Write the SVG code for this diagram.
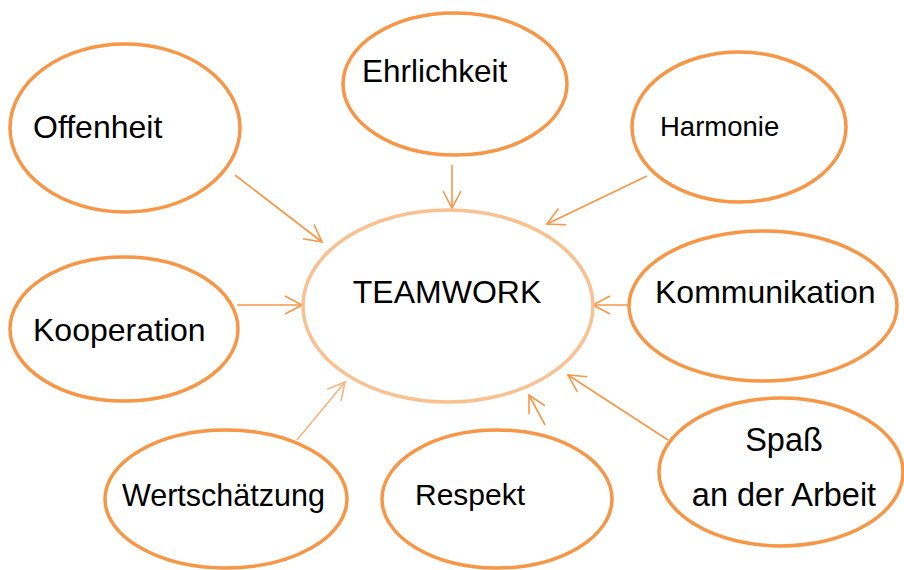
<svg xmlns="http://www.w3.org/2000/svg" width="904" height="570" viewBox="0 0 904 570">
<style>
.n{fill:#fff;stroke:#F79646;stroke-width:3.5}
.c{fill:#fff;stroke:#FAC090;stroke-width:3.5}
.t{font-family:"Liberation Sans",Arial,sans-serif;font-size:32px;fill:#000}
.a{fill:none;stroke:#F79646;stroke-width:1.6}
</style>
<defs>
<marker id="ahl" markerUnits="userSpaceOnUse" viewBox="0 0 20 20" refX="18" refY="10" markerWidth="20" markerHeight="20" orient="auto">
<path d="M1,1 L18,10 L1,19" fill="none" stroke="#F9B27C" stroke-width="1.6"/>
</marker>
<marker id="aho" markerUnits="userSpaceOnUse" viewBox="0 0 20 20" refX="18" refY="10" markerWidth="20" markerHeight="20" orient="auto">
<path d="M1,1 L18,10 L1,19" fill="none" stroke="#F79646" stroke-width="1.6"/>
</marker>
</defs>
<g id="connectors">
<line class="a" x1="235" y1="175" x2="322" y2="242" marker-end="url(#aho)"/>
<line class="a" x1="452" y1="165" x2="452" y2="208" marker-end="url(#aho)"/>
<line class="a" x1="647" y1="176" x2="547" y2="224" marker-end="url(#aho)"/>
<line class="a" x1="237" y1="305" x2="302" y2="305" marker-end="url(#aho)"/>
<line class="a" x1="629" y1="305" x2="593" y2="305" marker-end="url(#aho)"/>
<line class="a" style="stroke:#F9B27C" x1="297" y1="440" x2="345" y2="382" marker-end="url(#ahl)"/>
<line class="a" x1="545" y1="425" x2="529" y2="395" marker-end="url(#aho)"/>
<line class="a" x1="668" y1="440" x2="568" y2="375" marker-end="url(#aho)"/>
</g>
<g id="teamwork">
<ellipse class="c" cx="448" cy="306" rx="145" ry="96"/>
<text class="t" x="447" y="303" text-anchor="middle">TEAMWORK</text>
</g>
<g id="offenheit">
<ellipse class="n" cx="125" cy="128" rx="115" ry="84"/>
<text class="t" x="33" y="138">Offenheit</text>
</g>
<g id="ehrlichkeit">
<ellipse class="n" cx="455" cy="84" rx="112" ry="71"/>
<text class="t" x="362" y="82" style="font-size:31.5px">Ehrlichkeit</text>
</g>
<g id="harmonie">
<ellipse class="n" cx="739" cy="127" rx="107" ry="75"/>
<text class="t" x="660" y="136" style="font-size:27.5px">Harmonie</text>
</g>
<g id="kooperation">
<ellipse class="n" cx="124" cy="329" rx="114" ry="72"/>
<text class="t" x="33" y="341">Kooperation</text>
</g>
<g id="kommunikation">
<ellipse class="n" cx="763" cy="306" rx="134" ry="75"/>
<text class="t" x="655" y="303">Kommunikation</text>
</g>
<g id="wertschaetzung">
<ellipse class="n" cx="226" cy="499" rx="121" ry="69"/>
<text class="t" x="122" y="506" style="font-size:30.5px">Wertschätzung</text>
</g>
<g id="respekt">
<ellipse class="n" cx="497" cy="499" rx="115" ry="69"/>
<text class="t" x="415" y="505" style="font-size:30px">Respekt</text>
</g>
<g id="spass">
<ellipse class="n" cx="781" cy="472" rx="122" ry="74"/>
<text class="t" x="784" y="451" text-anchor="middle" style="font-size:32.5px">Spaß</text>
<text class="t" x="784" y="506" text-anchor="middle" style="font-size:32.5px">an der Arbeit</text>
</g>
</svg>
